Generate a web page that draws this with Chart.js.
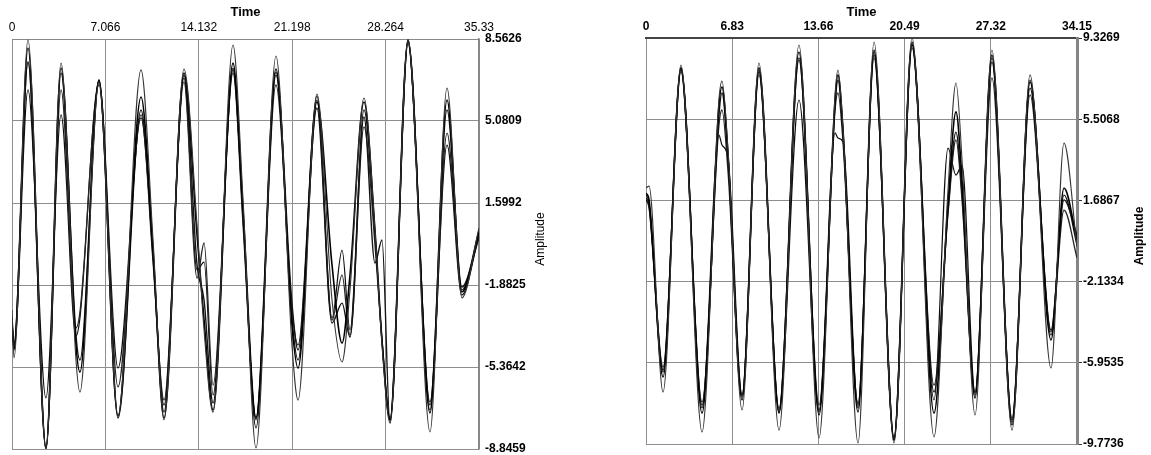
<!DOCTYPE html>
<html>
<head>
<meta charset="utf-8">
<title>Amplitude vs Time</title>
<script src="https://cdn.jsdelivr.net/npm/chart.js@4.4.1/dist/chart.umd.min.js"></script>
<style>
  body { margin: 0; background: #fff; }
  .panel { position: absolute; top: 0; }
  #leftPanel { left: 0; }
  #rightPanel { left: 590px; }
</style>
</head>
<body>
<div class="panel" id="leftPanel"><canvas id="leftChart" width="560" height="455"></canvas></div>
<div class="panel" id="rightPanel"><canvas id="rightChart" width="561" height="455"></canvas></div>
<script>
// left panel: time of each extremum / shoulder, and the five traces read there
const leftTime = [0, 0.15, 1.21, 2.57, 3.71, 4.84, 5.14, 6.58, 8.02, 9.76, 10.67, 11.50, 13.01, 14.00, 14.53, 15.21, 16.72, 17.48, 18.46, 19.97, 21.18, 21.64, 23.07, 24.21, 24.97, 25.57, 26.63, 27.46, 27.99, 28.60, 29.96, 31.62, 32.91, 34.04, 35.33];
const leftAmpA = [-2.94, -4.98, 8.52, -8.85, 7.54, -5.07, -6.43, 6.74, -7.44, 7.25, 0.03, -7.61, 7.29, 0.66, -3.79, -7.28, 8.31, 1.73, -8.80, 7.84, -4.43, -6.77, 6.23, -2.52, -5.15, -2.09, 6.06, 0.45, -4.43, -7.74, 8.56, -8.12, 6.48, -2.43, 0.54];
const leftAmpB = [-3.28, -4.64, 8.18, -8.80, 7.33, -4.43, -5.58, 6.82, -7.44, 6.10, -0.40, -7.53, 7.12, 0.24, -3.37, -7.19, 7.54, 1.30, -7.53, 7.29, -3.58, -5.41, 5.89, -1.03, -4.35, -1.46, 5.89, 0.45, -4.22, -7.61, 8.52, -7.32, 5.97, -2.18, 0.37];
const leftAmpC = [-3.45, -4.43, 7.59, -8.85, 7.12, -4.01, -5.07, 6.82, -7.53, 5.55, -0.69, -7.28, 7.03, -1.03, -2.52, -6.89, 7.25, 1.09, -7.95, 7.03, -2.65, -4.64, 5.63, -3.50, -2.65, -4.09, 5.25, -0.95, 0.03, -7.74, 8.44, -6.98, 5.55, -1.97, 0.11];
const leftAmpD = [-3.58, -4.35, 7.59, -8.76, 6.40, -3.71, -3.03, 6.61, -6.21, 5.34, -0.91, -6.77, 6.74, -1.59, -0.10, -6.13, 7.12, 0.66, -7.61, 6.61, -2.94, -4.43, 5.97, -3.37, -1.46, -4.01, 4.83, -0.18, -4.22, -7.53, 8.48, -7.19, 4.57, -2.09, 0.45];
const leftAmpE = [-3.45, -4.52, 6.40, -6.68, 5.34, -4.05, -3.28, 6.74, -5.41, 5.21, -0.61, -6.98, 6.91, -1.25, -0.91, -6.55, 7.33, 0.88, -7.53, 7.16, -3.28, -5.07, 6.14, -3.28, -0.40, -3.79, 5.55, 0.24, -4.22, -7.61, 8.35, -6.85, 4.06, -2.31, 0.24];
const leftXTicks = [0, 7.066, 14.132, 21.198, 28.264, 35.33];
const leftYTicks = [8.5626, 5.0809, 1.5992, -1.8825, -5.3642, -8.8459];

// right panel
const rightTime = [0, 0.24, 1.35, 2.77, 4.44, 5.78, 6.02, 6.50, 7.61, 8.95, 10.54, 12.12, 13.71, 14.98, 15.21, 15.61, 16.80, 18.07, 19.65, 21.08, 22.82, 23.93, 24.56, 25.04, 26.07, 27.41, 29.00, 30.43, 32.09, 33.12, 34.15];
const rightAmpA = [2.27, 2.36, -7.33, 8.06, -9.21, 6.41, 7.30, 4.06, -8.17, 8.15, -9.12, 9.00, -9.49, 6.65, 7.82, 5.09, -9.73, 9.14, -9.73, 9.33, -9.44, 2.18, 7.21, 3.59, -8.41, 8.76, -9.12, 7.59, -6.20, 4.39, -0.51];
const rightAmpB = [2.03, 1.71, -6.62, 7.92, -8.32, 6.17, 7.02, 3.82, -7.70, 7.92, -8.32, 8.67, -8.41, 6.41, 7.59, 5.00, -8.27, 8.76, -9.59, 9.14, -8.32, 1.56, 5.85, 2.65, -7.61, 8.53, -8.88, 7.26, -4.88, 2.27, -0.18];
const rightAmpC = [1.80, 1.47, -6.29, 7.82, -7.94, 5.70, 6.74, 3.68, -7.47, 7.73, -8.17, 8.39, -8.17, 6.17, 7.35, 4.86, -7.94, 8.53, -9.44, 9.00, -7.33, 1.23, 4.90, 2.03, -7.33, 8.20, -8.64, 6.97, -4.41, 1.71, 0.06];
const rightAmpD = [1.94, 1.56, -6.15, 7.73, -7.80, 5.23, 5.94, 3.02, -7.56, 7.59, -8.08, 8.29, -7.94, 5.94, 6.74, 4.43, -7.85, 8.39, -9.49, 8.86, -7.00, 1.05, 4.53, 1.71, -7.47, 7.45, -8.55, 6.65, -4.65, 1.23, -1.02];
const rightAmpE = [1.71, 1.33, -6.39, 7.92, -8.08, 4.76, 4.29, 3.68, -7.47, 7.82, -8.27, 6.41, -8.27, 4.86, 4.62, 4.43, -8.08, 8.67, -9.59, 9.04, -7.70, 4.15, 2.88, 3.35, -7.37, 8.39, -8.74, 7.35, -4.50, 1.94, -0.41];
const rightXTicks = [0, 6.83, 13.66, 20.49, 27.32, 34.15];
const rightYTicks = [9.3269, 5.5068, 1.6867, -2.1334, -5.9535, -9.7736];

const lineColors = ['#333333', '#000000', '#151515', '#262626', '#0d0d0d'];
const lineWidths = [1.1, 1.6, 1.4, 1.3, 1.2];

Chart.defaults.font.family = '"Liberation Sans", Arial, sans-serif';
Chart.defaults.color = '#000';

// y title on the right, reading bottom to top
const amplitudeTitle = {
  id: 'amplitudeTitle',
  afterDraw(chart, args, opts) {
    const { ctx, chartArea } = chart;
    ctx.save();
    ctx.translate(chartArea.right + opts.offset, (chartArea.top + chartArea.bottom) / 2 - 5);
    ctx.rotate(-Math.PI / 2);
    ctx.font = opts.font;
    ctx.fillStyle = '#000';
    ctx.textAlign = 'center';
    ctx.textBaseline = 'middle';
    ctx.fillText('Amplitude', 0, 0);
    ctx.restore();
  }
};

function buildChart(canvasId, setup) {
  const datasets = setup.series.map((values, i) => ({
    data: setup.time.map((t, j) => ({ x: t, y: values[j] })),
    borderColor: lineColors[i],
    borderWidth: lineWidths[i],
    pointRadius: 0,
    cubicInterpolationMode: 'monotone',
    fill: false
  }));

  return new Chart(document.getElementById(canvasId), {
    type: 'line',
    data: { datasets: datasets },
    options: {
      responsive: false,
      animation: false,
      layout: { padding: setup.padding },
      plugins: {
        legend: { display: false },
        tooltip: { enabled: false },
        amplitudeTitle: { offset: setup.titleOffset, font: setup.titleFont }
      },
      scales: {
        x: {
          type: 'linear',
          position: 'top',
          min: setup.xTicks[0],
          max: setup.xTicks[setup.xTicks.length - 1],
          afterBuildTicks: scale => { scale.ticks = setup.xTicks.map(v => ({ value: v })); },
          afterFit: scale => {
            scale.height = setup.xAxisHeight;
            scale.paddingLeft = 0;
            scale.paddingRight = 0;
          },
          ticks: {
            autoSkip: false,
            maxRotation: 0,
            padding: 4,
            font: setup.xTickFont,
            callback: v => String(v)
          },
          grid: { color: '#8e8e8e', drawTicks: false },
          border: { color: setup.topBorder, width: setup.topBorderWidth },
          title: {
            display: true,
            text: 'Time',
            font: { size: 13, weight: 'bold' },
            padding: { top: 5, bottom: 0 }
          }
        },
        y: {
          type: 'linear',
          position: 'right',
          min: setup.yTicks[setup.yTicks.length - 1],
          max: setup.yTicks[0],
          afterBuildTicks: scale => { scale.ticks = setup.yTicks.map(v => ({ value: v })); },
          afterFit: scale => {
            scale.width = setup.yAxisWidth;
            scale.paddingTop = 0;
            scale.paddingBottom = 0;
          },
          ticks: {
            padding: setup.yTickPadding,
            font: { size: 12, weight: 'bold' },
            callback: v => String(v)
          },
          grid: {
            color: '#8e8e8e',
            drawTicks: setup.yTickMarks,
            tickLength: 5,
            tickColor: '#333'
          },
          border: { color: '#858585', width: setup.rightBorderWidth }
        }
      }
    },
    plugins: [amplitudeTitle]
  });
}

buildChart('leftChart', {
  time: leftTime,
  series: [leftAmpA, leftAmpB, leftAmpC, leftAmpD, leftAmpE],
  xTicks: leftXTicks,
  yTicks: leftYTicks,
  padding: { left: 12, right: 0, top: 0, bottom: 6 },
  xAxisHeight: 39,
  yAxisWidth: 81,
  yTickPadding: 6,
  yTickMarks: false,
  xTickFont: { size: 12 },
  topBorder: '#888',
  topBorderWidth: 1,
  rightBorderWidth: 1.5,
  titleOffset: 62,
  titleFont: '12px "Liberation Sans", Arial, sans-serif'
});

buildChart('rightChart', {
  time: rightTime,
  series: [rightAmpA, rightAmpB, rightAmpC, rightAmpD, rightAmpE],
  xTicks: rightXTicks,
  yTicks: rightYTicks,
  padding: { left: 56, right: 0, top: 0, bottom: 11 },
  xAxisHeight: 38,
  yAxisWidth: 74,
  yTickPadding: 1,
  yTickMarks: true,
  xTickFont: { size: 12, weight: 'bold' },
  topBorder: '#444',
  topBorderWidth: 2,
  rightBorderWidth: 3,
  titleOffset: 63,
  titleFont: 'bold 12px "Liberation Sans", Arial, sans-serif'
});
</script>
</body>
</html>
